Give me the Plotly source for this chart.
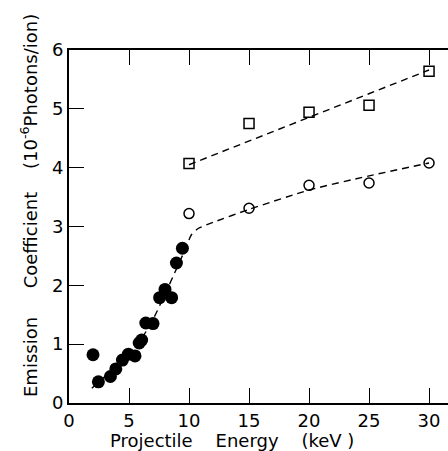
import plotly.graph_objects as go

# Projectile energy (keV) and emission coefficient (1e-6 photons/ion)
filled_energy = [2.0, 2.45, 3.45, 3.9, 4.45, 4.95, 5.5, 5.85, 6.05, 6.4, 7.0, 7.55, 8.0, 8.55, 8.95, 9.45]
filled_coeff = [0.82, 0.36, 0.45, 0.58, 0.73, 0.83, 0.80, 1.02, 1.07, 1.36, 1.35, 1.79, 1.93, 1.79, 2.38, 2.63]

open_energy = [10, 15, 20, 25, 30]
open_coeff = [3.22, 3.31, 3.70, 3.74, 4.08]

square_energy = [10, 15, 20, 25, 30]
square_coeff = [4.07, 4.75, 4.94, 5.06, 5.64]

# Guide curves (dashed)
curve_energy = [1.9, 3.0, 4.0, 5.0, 6.0, 7.0, 8.0, 9.0, 9.7, 10.2, 10.8, 12.0, 15.0, 20.0, 25.0, 30.0]
curve_coeff = [0.25, 0.45, 0.63, 0.83, 1.08, 1.42, 1.85, 2.30, 2.62, 2.86, 2.97, 3.07, 3.29, 3.62, 3.86, 4.08]

line_energy = [10, 30]
line_coeff = [4.05, 5.66]

x_ticks = [0, 5, 10, 15, 20, 25, 30]
y_ticks = [0, 1, 2, 3, 4, 5, 6]

fig = go.Figure()

fig.add_trace(go.Scatter(
    x=curve_energy, y=curve_coeff, mode="lines",
    line=dict(color="black", width=1.4, dash="7px,5px", shape="spline", smoothing=0.6),
    hoverinfo="skip"))
fig.add_trace(go.Scatter(
    x=line_energy, y=line_coeff, mode="lines",
    line=dict(color="black", width=1.4, dash="7px,5px"),
    hoverinfo="skip"))

fig.add_trace(go.Scatter(
    x=filled_energy, y=filled_coeff, mode="markers",
    marker=dict(symbol="circle", size=13, color="black", line=dict(width=0))))
fig.add_trace(go.Scatter(
    x=open_energy, y=open_coeff, mode="markers",
    marker=dict(symbol="circle-open", size=10, color="black", line=dict(width=1.5))))
fig.add_trace(go.Scatter(
    x=square_energy, y=square_coeff, mode="markers",
    marker=dict(symbol="square-open", size=10, color="black", line=dict(width=1.5))))

font_family = "DejaVu Sans, Verdana, sans-serif"
sp = "\u00a0"

fig.update_layout(
    width=448, height=451,
    margin=dict(l=69, r=0, t=50, b=48),
    paper_bgcolor="white", plot_bgcolor="white",
    showlegend=False,
    font=dict(family=font_family, color="black", size=18),
    xaxis=dict(
        range=[0, 31.58], tickvals=x_ticks, ticktext=[str(v) for v in x_ticks],
        showgrid=False, zeroline=False,
        showline=True, linecolor="black", linewidth=1.8, mirror="ticks",
        ticks="inside", ticklen=15, tickwidth=1.3, tickcolor="black",
        tickfont=dict(size=18, family=font_family),
    ),
    yaxis=dict(
        range=[0, 6], tickvals=y_ticks, ticktext=[str(v) for v in y_ticks],
        showgrid=False, zeroline=False,
        showline=True, linecolor="black", linewidth=1.8,
        ticks="inside", ticklen=15, tickwidth=1.3, tickcolor="black",
        tickfont=dict(size=18, family=font_family),
    ),
    annotations=[
        dict(text="Projectile" + sp * 4 + "Energy" + sp * 4 + "(keV" + sp + ")",
             xref="paper", yref="paper", x=(232 - 69) / 379, y=-(440 - 403) / 353,
             xanchor="center", yanchor="middle", showarrow=False,
             font=dict(size=18, family=font_family)),
        dict(text="Emission" + sp * 5 + "Coefficient" + sp * 4 + "(10<sup>-6</sup>Photons/ion)",
             xref="paper", yref="paper", x=-(69 - 29) / 379, y=(403 - 206) / 353,
             xanchor="center", yanchor="middle", textangle=-90, showarrow=False,
             font=dict(size=18, family=font_family)),
    ],
)

fig.write_html("out.html")
